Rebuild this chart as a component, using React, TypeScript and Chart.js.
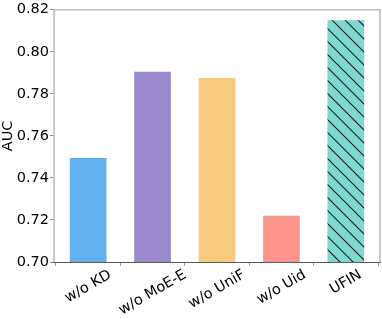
import React, { useEffect, useRef } from "react";
import { Chart, registerables } from "chart.js";

Chart.register(...registerables);

const categories = ["w/o KD", "w/o MoE-E", "w/o UniF", "w/o Uid", "UFIN"];
const aucValues = [0.750, 0.791, 0.788, 0.7225, 0.8155];
const barColors = ["#62B1EE", "#9A89CC", "#F8CA7F", "#F9958A", "#7DD8D0"];
const yTicks = [0.70, 0.72, 0.74, 0.76, 0.78, 0.80, 0.82];

const FONT = "DejaVu Sans";
const FONT_SIZE = 14.5;

function makeHatch(base: string): CanvasPattern | string {
  const s = 13;
  const c = document.createElement("canvas");
  c.width = s;
  c.height = s;
  const g = c.getContext("2d");
  if (!g) return base;
  g.fillStyle = base;
  g.fillRect(0, 0, s, s);
  g.strokeStyle = "#1a1a1a";
  g.lineWidth = 1.1;
  for (const off of [-s, 0, s]) {
    g.beginPath();
    g.moveTo(off - 1, -1);
    g.lineTo(off + s + 1, s + 1);
    g.stroke();
  }
  const p = g.createPattern(c, "repeat");
  return p || base;
}

const framePlugin = {
  id: "frame",
  afterDatasetsDraw(chart: any) {
    const { ctx, chartArea } = chart;
    const { left, right, top, bottom } = chartArea;
    ctx.save();
    ctx.lineCap = "butt";
    ctx.strokeStyle = "#bdbdbd";
    ctx.lineWidth = 1.6;
    ctx.beginPath();
    ctx.moveTo(left, bottom);
    ctx.lineTo(left, top);
    ctx.lineTo(right, top);
    ctx.lineTo(right, bottom);
    ctx.stroke();
    ctx.strokeStyle = "#5a5a5a";
    ctx.lineWidth = 1;
    ctx.beginPath();
    ctx.moveTo(left - 0.8, Math.round(bottom) + 0.5);
    ctx.lineTo(right + 0.8, Math.round(bottom) + 0.5);
    ctx.stroke();
    ctx.restore();
  },
  afterDraw(chart: any) {
    const { ctx, chartArea } = chart;
    const xs = chart.scales.x;
    ctx.save();
    ctx.font = `${FONT_SIZE}px "${FONT}"`;
    ctx.fillStyle = "#000";
    ctx.textAlign = "center";
    ctx.textBaseline = "middle";
    const ang = (30 * Math.PI) / 180;
    const lineH = FONT_SIZE * 1.165;
    categories.forEach((label, i) => {
      const x = xs.getPixelForValue(i);
      const w = ctx.measureText(label).width;
      const bboxH = w * Math.sin(ang) + lineH * Math.cos(ang);
      const cy = chartArea.bottom + 4.5 + bboxH / 2;
      ctx.save();
      ctx.translate(x, cy);
      ctx.rotate(-ang);
      ctx.fillText(label, 0, 0);
      ctx.restore();
    });
    ctx.restore();
  },
};

export default function App() {
  const ref = useRef<HTMLCanvasElement | null>(null);

  useEffect(() => {
    document.body.style.margin = "0";
    const canvas = ref.current;
    if (!canvas) return;
    const bg = barColors.map((c, i) => (i === barColors.length - 1 ? makeHatch(c) : c));
    const chart = new Chart(canvas, {
      type: "bar",
      data: {
        datasets: [
          {
            data: aucValues.map((v, i) => ({ x: i, y: v })),
            backgroundColor: bg as any,
            borderColor: "rgba(255,255,255,0.55)",
            borderWidth: 1,
            barPercentage: 0.6,
            categoryPercentage: 1,
          },
        ],
      },
      options: {
        animation: false,
        responsive: false,
        devicePixelRatio: 1,
        layout: { padding: { top: 6, right: 2, left: 0, bottom: 0 } },
        plugins: { legend: { display: false }, tooltip: { enabled: false } },
        scales: {
          x: {
            type: "linear",
            min: -0.53,
            max: 4.53,
            offset: false,
            border: { display: false },
            grid: { drawOnChartArea: false, drawTicks: true, tickLength: 4, color: "#9a9a9a" },
            ticks: { display: false, stepSize: 1, includeBounds: false },
            afterFit: (s: any) => {
              s.height = 57;
            },
          },
          y: {
            min: yTicks[0],
            max: yTicks[yTicks.length - 1],
            border: { display: false },
            grid: { drawOnChartArea: false, drawTicks: true, tickLength: 4, color: "#8a8a8a" },
            ticks: {
              stepSize: 0.02,
              padding: 1,
              color: "#000",
              font: { family: FONT, size: FONT_SIZE },
              callback: (v: any) => Number(v).toFixed(2),
            },
            title: {
              display: true,
              text: "AUC",
              color: "#000",
              font: { family: FONT, size: FONT_SIZE },
              padding: { top: 0, bottom: 0 },
            },
            afterFit: (s: any) => {
              s.width = 54;
            },
          },
        },
      },
      plugins: [framePlugin],
    });
    return () => chart.destroy();
  }, []);

  return (
    <div style={{ width: 382, height: 319 }}>
      <canvas ref={ref} width={382} height={319} />
    </div>
  );
}
